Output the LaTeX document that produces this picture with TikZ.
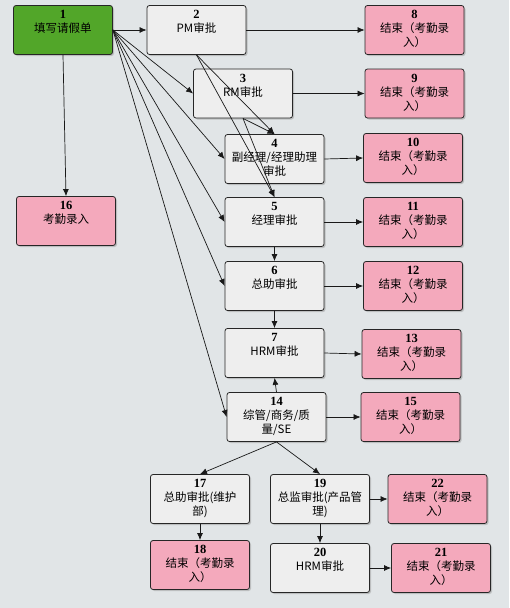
\documentclass[tikz,border=0pt]{standalone}
\usepackage{fontspec}
\setmainfont{Noto Sans CJK SC}
\newfontfamily\numf{Liberation Serif}
\usetikzlibrary{arrows.meta,shadows}
\definecolor{bgc}{RGB}{225,229,231}
\definecolor{boxc}{RGB}{238,238,238}
\definecolor{pinkc}{RGB}{244,169,188}
\definecolor{greenc}{RGB}{82,166,41}
\newcommand\nm[1]{{\numf\bfseries\fontsize{12.5}{14}\selectfont #1}}
\begin{document}
\begin{tikzpicture}[x=1pt,y=-1pt,
  box/.style={draw=black!85, line width=0.8pt, rounded corners=2.5pt, fill=boxc,
    minimum width=99pt, minimum height=49pt, inner sep=0pt,
    drop shadow={shadow xshift=1.5pt, shadow yshift=-1.5pt, fill=black!40, opacity=0.5}},
  endbox/.style={box, fill=pinkc},
  startbox/.style={box, fill=greenc},
  lbl/.style={anchor=north, yshift=-5pt, align=center, font=\fontsize{11.5}{14}\selectfont, inner sep=0pt},
  arr/.style={draw=black!90, line width=0.7pt, -{Latex[length=7pt,width=6pt]}}]
\fill[bgc] (0,0) rectangle (509,608);
\useasboundingbox (0,0) rectangle (509,608);
% nodes
\node[startbox, label={[lbl]north:{\nm{1}\\填写请假单}}] (n1) at (63,30) {};
\node[box, label={[lbl]north:{\nm{2}\\PM审批}}] (n2) at (196.5,30) {};
\node[box, label={[lbl]north:{\nm{3}\\RM审批}}] (n3) at (243,93.5) {};
\node[box, label={[lbl]north:{\nm{4}\\副经理/经理助理\\审批}}] (n4) at (274.5,159) {};
\node[box, label={[lbl]north:{\nm{5}\\经理审批}}] (n5) at (274.5,222) {};
\node[box, label={[lbl]north:{\nm{6}\\总助审批}}] (n6) at (274.5,286) {};
\node[box, label={[lbl]north:{\nm{7}\\HRM审批}}] (n7) at (274.5,353) {};
\node[box, label={[lbl]north:{\nm{14}\\综管/商务/质\\量/SE}}] (n14) at (276.5,417) {};
\node[endbox, label={[lbl]north:{\nm{8}\\结束（考勤录\\入）}}] (n8) at (414.5,30) {};
\node[endbox, label={[lbl]north:{\nm{9}\\结束（考勤录\\入）}}] (n9) at (414.5,93.5) {};
\node[endbox, label={[lbl]north:{\nm{10}\\结束（考勤录\\入）}}] (n10) at (413,158) {};
\node[endbox, label={[lbl]north:{\nm{11}\\结束（考勤录\\入）}}] (n11) at (413,222) {};
\node[endbox, label={[lbl]north:{\nm{12}\\结束（考勤录\\入）}}] (n12) at (413,286) {};
\node[endbox, label={[lbl]north:{\nm{13}\\结束（考勤录\\入）}}] (n13) at (411.5,354) {};
\node[endbox, label={[lbl]north:{\nm{15}\\结束（考勤录\\入）}}] (n15) at (410.5,417) {};
\node[endbox, label={[lbl]north:{\nm{16}\\考勤录入}}] (n16) at (66,221) {};
\node[box, label={[lbl]north:{\nm{17}\\总助审批(维护\\部)}}] (n17) at (200,499) {};
\node[endbox, label={[lbl]north:{\nm{18}\\结束（考勤录\\入）}}] (n18) at (200,565) {};
\node[box, label={[lbl]north:{\nm{19}\\总监审批(产品管\\理)}}] (n19) at (320,499) {};
\node[endbox, label={[lbl]north:{\nm{22}\\结束（考勤录\\入）}}] (n22) at (437.5,499) {};
\node[box, label={[lbl]north:{\nm{20}\\HRM审批}}] (n20) at (320,568) {};
\node[endbox, label={[lbl]north:{\nm{21}\\结束（考勤录\\入）}}] (n21) at (441,568) {};
% edges
\draw[arr] (n1.east) -- (n2.west);
\draw[arr] (n1.east) -- (n3.west);
\draw[arr] (n1.east) -- (n4.west);
\draw[arr] (n1.east) -- (n5.west);
\draw[arr] (n1.east) -- (n6.west);
\draw[arr] (n1.east) -- (n14.west);
\draw[arr] (n1.south) -- (n16.north);
\draw[arr] (n2.south) -- (n4.north);
\draw[arr] (n2.south) -- (n5.north);
\draw[arr] (n3.south) -- (n4.north);
\draw[arr] (n3.south) -- (n5.north);
\draw[arr] (n2.east) -- (n8.west);
\draw[arr] (n3.east) -- (n9.west);
\draw[arr] (n4.east) -- (n10.west);
\draw[arr] (n5.east) -- (n11.west);
\draw[arr] (n6.east) -- (n12.west);
\draw[arr] (n7.east) -- (n13.west);
\draw[arr] (n14.east) -- (n15.west);
\draw[arr] (n5.south) -- (n6.north);
\draw[arr] (n6.south) -- (n7.north);
\draw[arr] (n14.north) -- (n7.south);
\draw[arr] (n14.south) -- (n17.north);
\draw[arr] (n14.south) -- (n19.north);
\draw[arr] (n17.south) -- (n18.north);
\draw[arr] (n19.south) -- (n20.north);
\draw[arr] (n19.east) -- (n22.west);
\draw[arr] (n20.east) -- (n21.west);
\end{tikzpicture}
\end{document}
